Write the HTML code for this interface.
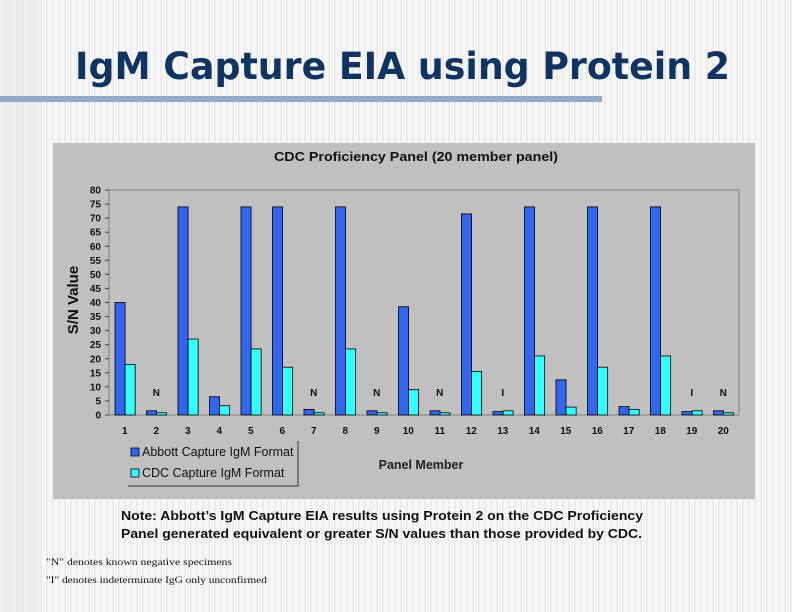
<!DOCTYPE html>
<html><head><meta charset="utf-8"><style>
html,body{margin:0;padding:0;}
body{width:792px;height:612px;overflow:hidden;background:#f3f3f3;
background-image:repeating-linear-gradient(90deg,#f6f6f6 0 4px,#ececec 4px 6px);}
svg{display:block;}
</style></head><body>
<svg width="792" height="612" font-family="Liberation Sans, Arial, sans-serif">
<rect x="0" y="0" width="40" height="612" fill="#e8e8e8" opacity="0.6"/>
<text x="75" y="79" style="font-family:'DejaVu Sans',sans-serif;font-weight:bold;font-size:37px" fill="#0f3461" textLength="655" lengthAdjust="spacingAndGlyphs">IgM Capture EIA using Protein 2</text>
<rect x="0" y="96" width="602" height="6" fill="#93aac6"/>
<rect x="53" y="143" width="702" height="356" fill="#c0c0c0"/>
<text x="416" y="161" text-anchor="middle" font-weight="bold" font-size="12.5" fill="#111" textLength="284" lengthAdjust="spacingAndGlyphs">CDC Proficiency Panel (20 member panel)</text>
<text transform="translate(78,300) rotate(-90)" text-anchor="middle" font-weight="bold" font-size="15" fill="#111">S/N Value</text>
<rect x="109" y="190" width="630" height="225" fill="none" stroke="#808080" stroke-width="1"/>
<g id="ticks"></g><g id="bars"></g><g id="notes"></g>
<text x="421" y="469" text-anchor="middle" font-weight="bold" font-size="12.5" fill="#222">Panel Member</text>
<g>
<path d="M128 486 H298 V441" fill="none" stroke="#333" stroke-width="1"/>
<rect x="131" y="448" width="8" height="8" fill="#3366ee" stroke="#000" stroke-width="0.8"/>
<text x="142" y="456" font-size="12.5" fill="#111">Abbott Capture IgM Format</text>
<rect x="131" y="469" width="8" height="8" fill="#33ffff" stroke="#000" stroke-width="0.8"/>
<text x="142" y="477" font-size="12.5" fill="#111">CDC Capture IgM Format</text>
</g>
<text x="121" y="520" font-weight="bold" font-size="12.5" fill="#111" textLength="522" lengthAdjust="spacingAndGlyphs">Note: Abbott’s IgM Capture EIA results using Protein 2 on the CDC Proficiency</text>
<text x="121" y="538" font-weight="bold" font-size="12.5" fill="#111" textLength="521" lengthAdjust="spacingAndGlyphs">Panel generated equivalent or greater S/N values than those provided by CDC.</text>
<text x="46" y="565" style="font-family:'Liberation Serif',serif;font-size:9px" fill="#111" textLength="186" lengthAdjust="spacingAndGlyphs">"N" denotes known negative specimens</text>
<text x="46" y="583" style="font-family:'Liberation Serif',serif;font-size:9px" fill="#111" textLength="221" lengthAdjust="spacingAndGlyphs">"I" denotes indeterminate IgG only unconfirmed</text>
</svg>
<script>
const categories=["1","2","3","4","5","6","7","8","9","10","11","12","13","14","15","16","17","18","19","20"];
const abbott=[40,1.5,74,6.5,74,74,2,74,1.5,38.5,1.5,71.5,1.2,74,12.5,74,3,74,1.2,1.5];
const cdc=[18,0.8,27,3.3,23.5,17,0.8,23.5,0.8,9,0.8,15.5,1.5,21,2.8,17,2,21,1.5,0.8];
const marks=["","N","","","","","N","","N","","N","","I","","","","","","I","N"];
const yTicks=[0,5,10,15,20,25,30,35,40,45,50,55,60,65,70,75,80];
const NS="http://www.w3.org/2000/svg";
const X0=109,X1=739,Y0=415,Y1=190,YMAX=80;
const cw=(X1-X0)/categories.length;
function y(v){return Y0-(v/YMAX)*(Y0-Y1);}
function xc(i){return X0+cw*i;}
function mk(tag,attrs,parent){const e=document.createElementNS(NS,tag);for(const k in attrs)e.setAttribute(k,attrs[k]);parent.appendChild(e);return e;}
const tg=document.getElementById('ticks'),bg=document.getElementById('bars'),ng=document.getElementById('notes');
yTicks.forEach(t=>{
  const l=mk('line',{x1:X0-4,x2:X0,y1:y(t),y2:y(t),stroke:'#444'},tg);
  
  
  const tx=mk('text',{x:X0-8,y:y(t)+3.5,'text-anchor':'end','font-size':'10','font-weight':'bold',fill:'#111'},tg);
  tx.textContent=t;
  
  
});
categories.forEach((c,i)=>{
  const bw=cw*0.32,x=xc(i)+cw*0.19;
  const b1=mk('rect',{x:x,y:y(abbott[i]),width:bw,height:Y0-y(abbott[i]),fill:'#3366ee',stroke:'#000','stroke-width':'0.8'},bg);
  
  
  const b2=mk('rect',{x:x+bw,y:y(cdc[i]),width:bw,height:Y0-y(cdc[i]),fill:'#33ffff',stroke:'#000','stroke-width':'0.8'},bg);
  
  
  const lb=mk('text',{x:xc(i)+cw/2,y:434,'text-anchor':'middle','font-size':'10','font-weight':'bold',fill:'#111'},tg);
  lb.textContent=c;
  
  
  if(marks[i]){
    const m=mk('text',{x:xc(i)+cw/2,y:396,'text-anchor':'middle','font-size':'10','font-weight':'bold',fill:'#111'},ng);
    m.textContent=marks[i];
    
    
  }
});
</script>
</body></html>
